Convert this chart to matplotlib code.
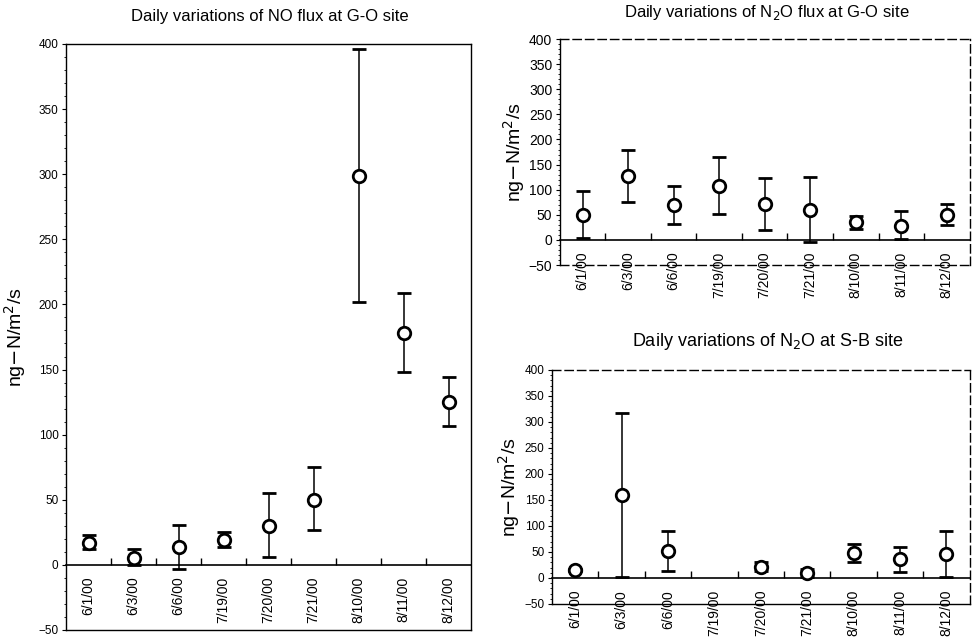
import numpy as np
import matplotlib
matplotlib.use("Agg")
import matplotlib.pyplot as plt

plt.rcParams['font.family'] = ['Liberation Sans', 'DejaVu Sans']

dates = ['6/1/00', '6/3/00', '6/6/00', '7/19/00', '7/20/00',
         '7/21/00', '8/10/00', '8/11/00', '8/12/00']

# NO flux at G-O site: mean, lower and upper whisker ends
no_go_mean = [17, 5, 14, 19, 30, 50, 299, 178, 125]
no_go_low = [12, 0, -3, 14, 6, 27, 202, 148, 107]
no_go_high = [23, 12, 31, 25, 55, 75, 396, 209, 144]

# N2O flux at G-O site
n2o_go_mean = [50, 127, 70, 108, 72, 60, 35, 27, 50]
n2o_go_low = [3, 75, 32, 52, 20, -5, 22, 1, 30]
n2o_go_high = [98, 179, 108, 165, 123, 126, 47, 57, 72]

# N2O at S-B site (no value on 7/19)
n2o_sb_mean = [16, 160, 52, np.nan, 22, 10, 49, 37, 47]
n2o_sb_low = [14, 2, 14, np.nan, 14, 1, 30, 11, 2]
n2o_sb_high = [18, 318, 90, np.nan, 30, 18, 66, 60, 90]

ylab = 'ng$-$N/m$^2$/s'


def draw(ax, mean, low, high, dashed_spines, label_x, ytick_size):
    x = np.arange(len(dates))
    mean = np.array(mean, dtype=float)
    err = [mean - np.array(low, dtype=float), np.array(high, dtype=float) - mean]
    ax.errorbar(x, mean, yerr=err, fmt='o', ms=9, mfc='white', mec='black',
                mew=2, ecolor='black', elinewidth=1.1, capsize=5, capthick=3.5,
                zorder=3)
    ax.set_xlim(-0.5, len(dates) - 0.5)
    ax.set_ylim(-50, 400)
    ax.set_yticks(np.arange(-50, 401, 50))
    ax.set_yticks(np.arange(-50, 401, 10), minor=True)
    ax.tick_params(axis='y', which='major', labelsize=ytick_size, length=3,
                   width=0.8, pad=2.5)
    ax.tick_params(axis='y', which='minor', length=1.5, width=0.6)
    ax.set_xticks([])
    for s in ax.spines.values():
        s.set_linewidth(1.0)
    for name in dashed_spines:
        ax.spines[name].set_linestyle((0, (6, 3)))

    # zero line with ticks between the days, dates hanging below it
    sec = ax.secondary_xaxis(50 / 450)
    sec.set_xticks(x[:-1] + 0.5)
    sec.tick_params(which='major', direction='in', length=5, width=1,
                    labelbottom=False)
    sec.set_xticks(x, dates, minor=True)
    sec.tick_params(which='minor', length=0, labelsize=10,
                    labelrotation=90, pad=8.5)
    sec.spines['bottom'].set_linewidth(1.2)

    ax.set_ylabel(ylab, fontsize=14)
    ax.yaxis.set_label_coords(label_x, 0.5)


fig = plt.figure(figsize=(9.72, 6.42), dpi=100)

ax1 = fig.add_axes([0.068, 0.0187, 0.4167, 0.9128])
draw(ax1, no_go_mean, no_go_low, no_go_high, [], -0.094, 8.5)

ax2 = fig.add_axes([0.576, 0.5872, 0.4215, 0.352])
draw(ax2, n2o_go_mean, n2o_go_low, n2o_go_high,
     ['top', 'right', 'bottom'], -0.08, 10)

ax3 = fig.add_axes([0.568, 0.0592, 0.4295, 0.3645])
draw(ax3, n2o_sb_mean, n2o_sb_low, n2o_sb_high,
     ['top', 'right'], -0.072, 8.5)

fig.text(0.278, 0.975, 'Daily variations of NO flux at G-O site',
         ha='center', va='center', fontsize=12)
fig.text(0.789, 0.981, 'Daily variations of N$_2$O flux at G-O site',
         ha='center', va='center', fontsize=12)
fig.text(0.790, 0.468, 'Daily variations of N$_2$O at S-B site',
         ha='center', va='center', fontsize=13)

fig.savefig('out.png', dpi=100)
